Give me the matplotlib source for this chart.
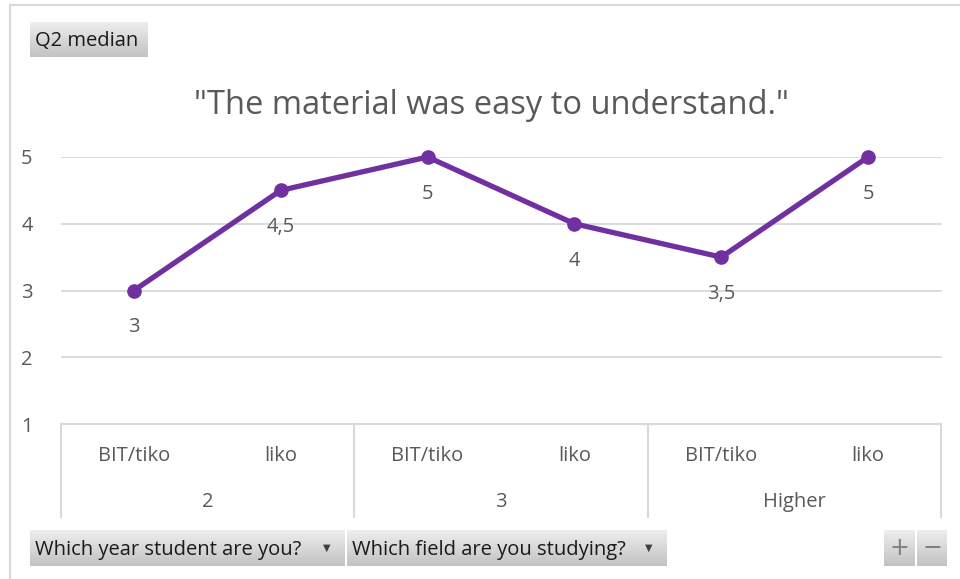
import numpy as np
import matplotlib
matplotlib.use("Agg")
import matplotlib.pyplot as plt
from matplotlib.lines import Line2D
from matplotlib.transforms import blended_transform_factory

# data
years = ["2", "3", "Higher"]
fields = ["BIT/tiko", "liko"]
medians = [3, 4.5, 5, 4, 3.5, 5]
value_labels = ["3", "4,5", "5", "4", "3,5", "5"]
yticks = [1, 2, 3, 4, 5]

W, H = 960, 579
plt.rcParams['font.family'] = ['Open Sans', 'DejaVu Sans']

fig = plt.figure(figsize=(W / 100, H / 100), dpi=100)

def fx(px):
    return px / W

def fy(py):
    return 1 - py / H

GRID = "#D9D9D9"
TXT = "#595959"
PURPLE = "#7030A0"
FS = 14.5

# outer chart frame (left and top edges visible)
fig.add_artist(Line2D([fx(10), fx(10)], [fy(5), 0], color=GRID, lw=1.5))
fig.add_artist(Line2D([fx(10), 1], [fy(5), fy(5)], color=GRID, lw=1.5))

ax = fig.add_axes([fx(60.5), fy(424), fx(941.5) - fx(60.5), (424 - 157) / H])
x = np.arange(len(medians))
ax.plot(x, medians, color=PURPLE, lw=3.8, marker="o", markersize=9.5,
        solid_capstyle="round", clip_on=False, zorder=3)
for xi, yi, lab in zip(x, medians, value_labels):
    ax.annotate(lab, (xi, yi), xytext=(0, -37), textcoords="offset pixels",
                ha="center", va="center", fontsize=FS, color=TXT)

ax.set_xlim(-0.5, len(medians) - 0.5)
ax.set_ylim(1, 5)
ax.set_yticks(yticks)
ax.set_yticklabels([str(t) for t in yticks])
ax.tick_params(axis="y", length=0, pad=20, labelsize=FS, labelcolor=TXT)
ax.set_xticks([])
for s in ax.spines.values():
    s.set_visible(False)
for t in yticks[1:]:
    ax.axhline(t, color=GRID, lw=1.3, zorder=1)

# category box under the axis
tr = blended_transform_factory(ax.transData, fig.transFigure)
ax.plot([-0.5, len(medians) - 0.5], [fy(424), fy(424)], transform=tr,
        color=GRID, lw=1.5, clip_on=False)
n_f = len(fields)
for g in range(len(years) + 1):
    xb = g * n_f - 0.5
    ax.plot([xb, xb], [fy(424), fy(517)], transform=tr, color=GRID, lw=1.5,
            clip_on=False)
for g, yr in enumerate(years):
    for j, f in enumerate(fields):
        ax.text(g * n_f + j, fy(456), f, transform=tr, ha="center",
                va="center", fontsize=FS, color=TXT)
    ax.text(g * n_f + (n_f - 1) / 2, fy(502), yr, transform=tr, ha="center",
            va="center", fontsize=FS, color=TXT)

fig.text(fx(491), fy(105), '"The material was easy to understand."',
         ha="center", va="center", fontsize=23.5, color=TXT)

# pivot chart buttons
grad = np.linspace(0.93, 0.76, 50).reshape(-1, 1)

def button(x0, y0, x1, y1, label, arrow=False, ha="left", color="#1a1a1a"):
    bax = fig.add_axes([fx(x0), fy(y1), fx(x1) - fx(x0), (y1 - y0) / H])
    bax.imshow(grad, aspect="auto", cmap="gray", vmin=0, vmax=1,
               extent=[0, 1, 0, 1])
    bax.set_axis_off()
    if ha == "left":
        bax.text(5 / (x1 - x0), 0.45, label, ha="left", va="center",
                 fontsize=FS, color=color, transform=bax.transAxes)
    else:
        bax.text(0.5, 0.5, label, ha="center", va="center", fontsize=17,
                 color=color, transform=bax.transAxes,
                 family=['DejaVu Sans'])
    if arrow:
        bax.text(1 - 18 / (x1 - x0), 0.5, "\u25BC", ha="center",
                 va="center", fontsize=7, color="#404040",
                 family=['DejaVu Sans'], transform=bax.transAxes)

button(30, 22, 148, 57, "Q2 median")
button(30, 530, 345, 566, "Which year student are you?", arrow=True)
button(347, 530, 667, 566, "Which field are you studying?", arrow=True)
button(884, 530, 915, 566, "+", ha="center", color="#7f7f7f")
button(917, 530, 947, 566, "\u2212", ha="center", color="#7f7f7f")

fig.savefig("out.png", dpi=100)
